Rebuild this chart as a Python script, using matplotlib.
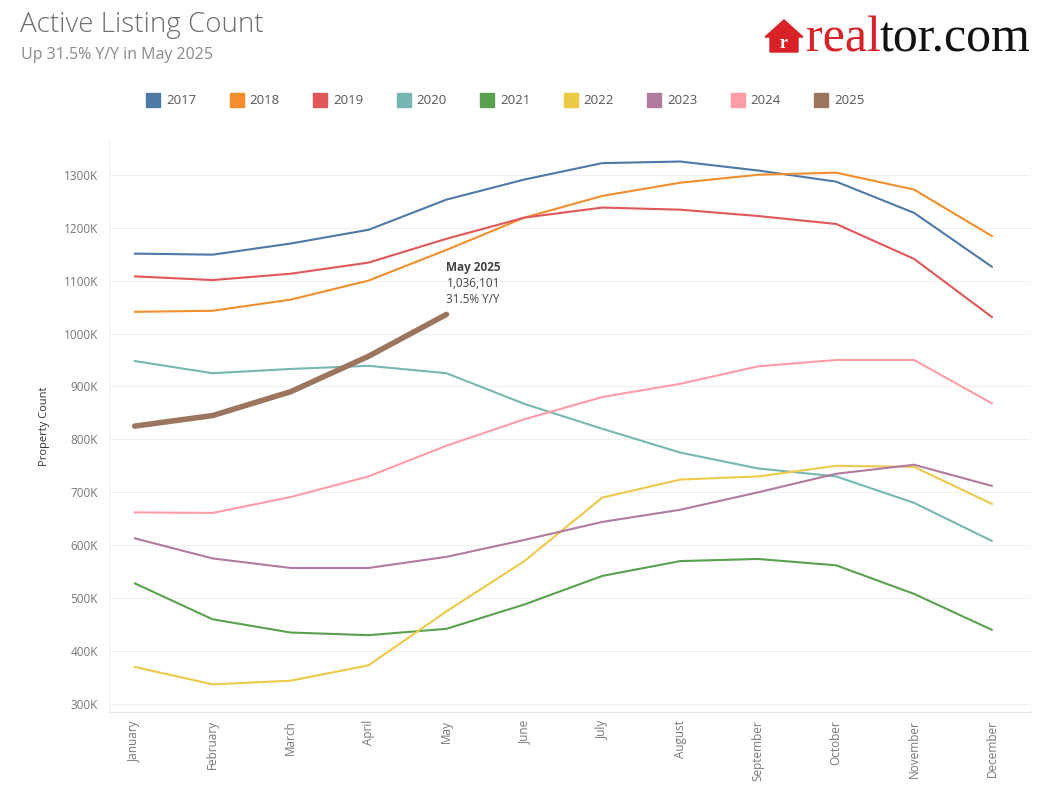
import matplotlib.pyplot as plt
from matplotlib.patches import Rectangle, Polygon
from matplotlib.ticker import FuncFormatter

plt.rcParams.update({
    'font.family': ['Open Sans', 'DejaVu Sans'],
    'figure.facecolor': 'white',
})

# Data (thousands of active listings)
months = ['January', 'February', 'March', 'April', 'May', 'June', 'July',
          'August', 'September', 'October', 'November', 'December']
years = ['2017', '2018', '2019', '2020', '2021', '2022', '2023', '2024', '2025']

y2017 = [1151, 1149, 1170, 1196, 1253, 1291, 1322, 1325, 1308, 1287, 1228, 1126]
y2018 = [1041, 1043, 1064, 1100, 1158, 1219, 1260, 1285, 1300, 1304, 1272, 1184]
y2019 = [1108, 1101, 1113, 1134, 1179, 1219, 1238, 1234, 1222, 1207, 1141, 1031]
y2020 = [948, 925, 933, 939, 925, 867, 820, 775, 745, 730, 680, 608]
y2021 = [528, 460, 435, 430, 442, 488, 542, 570, 574, 562, 508, 440]
y2022 = [370, 337, 344, 373, 475, 570, 690, 724, 730, 750, 748, 678]
y2023 = [613, 575, 557, 557, 578, 610, 644, 667, 700, 735, 752, 712]
y2024 = [662, 661, 691, 730, 788, 838, 880, 905, 938, 950, 950, 868]
y2025 = [825, 845, 890, 957, 1036.101]

series = [y2017, y2018, y2019, y2020, y2021, y2022, y2023, y2024, y2025]
colors = ['#4e79a7', '#f28e2b', '#e15759', '#76b7b2', '#59a14f',
          '#edc948', '#b07aa1', '#ff9da7', '#9c755f']

fig = plt.figure(figsize=(10.48, 7.99), dpi=100)
ax = fig.add_axes([0.104, 0.109, 0.879, 0.716])

for vals, col, yr in zip(series, colors, years):
    lw = 4.0 if yr == '2025' else 1.5
    ax.plot(range(len(vals)), vals, color=col, lw=lw,
            solid_capstyle='round', solid_joinstyle='round',
            zorder=5 if yr == '2025' else 3)

ax.set_xlim(-0.33, 11.49)
ax.set_ylim(285, 1366)
ax.set_yticks(range(300, 1301, 100))
ax.yaxis.set_major_formatter(FuncFormatter(lambda v, p: f'{int(v)}K'))
ax.set_xticks(range(12))
ax.set_xticklabels(months, rotation=90, va='top', ha='center')
ax.tick_params(axis='both', length=0, labelsize=8.5, labelcolor='#777777')
ax.tick_params(axis='x', pad=6)
ax.tick_params(axis='y', pad=8)
ax.grid(axis='y', color='#f0f0f0', lw=0.8)
ax.set_axisbelow(True)
for s in ['top', 'right']:
    ax.spines[s].set_visible(False)
ax.spines['left'].set_color('#f0f0f0')
ax.spines['bottom'].set_color('#e6e6e6')
ax.set_ylabel('Property Count', fontsize=8, color='#333333', labelpad=10)

# annotation at the latest point
ax.text(4.0, 1113, 'May 2025', fontsize=8.5, fontweight='bold', color='#444444',
        va='bottom', ha='left')
ax.text(4.0, 1083, '1,036,101', fontsize=8.5, color='#444444', va='bottom', ha='left')
ax.text(4.0, 1052, '31.5% Y/Y', fontsize=8.5, color='#444444', va='bottom', ha='left')

# titles
fig.text(20 / 1048, 1 - 25 / 799, 'Active Listing Count', fontsize=20,
         color='#6e6e6e', va='center', ha='left', fontweight='light')
fig.text(21 / 1048, 1 - 55 / 799, 'Up 31.5% Y/Y in May 2025', fontsize=11.5,
         color='#8a8a8a', va='center', ha='left')

# legend
for i, (yr, col) in enumerate(zip(years, colors)):
    x0 = 146 + i * 83.5
    fig.patches.append(Rectangle((x0 / 1048, 1 - 107 / 799), 14 / 1048, 14 / 799,
                                 transform=fig.transFigure, color=col))
    fig.text((x0 + 20) / 1048, 1 - 100 / 799, yr, fontsize=9.5, color='#555555',
             va='center', ha='left')

# realtor.com logo
red = '#d92228'
house = Polygon([(770 / 1048, 1 - 52 / 799), (770 / 1048, 1 - 37 / 799),
                 (765 / 1048, 1 - 37 / 799), (784 / 1048, 1 - 20 / 799),
                 (803 / 1048, 1 - 37 / 799), (798 / 1048, 1 - 37 / 799),
                 (798 / 1048, 1 - 52 / 799)],
                closed=True, transform=fig.transFigure, color=red)
fig.patches.append(house)
fig.text(784 / 1048, 1 - 44 / 799, 'r', fontsize=13, fontweight='bold',
         family='Liberation Serif', color='white', ha='center', va='center')
t1 = fig.text(806 / 1048, 1 - 51 / 799, 'real', fontsize=36,
              family='Liberation Serif', color=red, ha='left', va='baseline')
fig.canvas.draw()
bb = t1.get_window_extent()
fig.text(bb.x1 / 1048 - 1 / 1048, 1 - 51 / 799, 'tor.com', fontsize=36,
         family='Liberation Serif', color='#111111', ha='left', va='baseline')

fig.savefig('out.png', dpi=100, facecolor='white')
